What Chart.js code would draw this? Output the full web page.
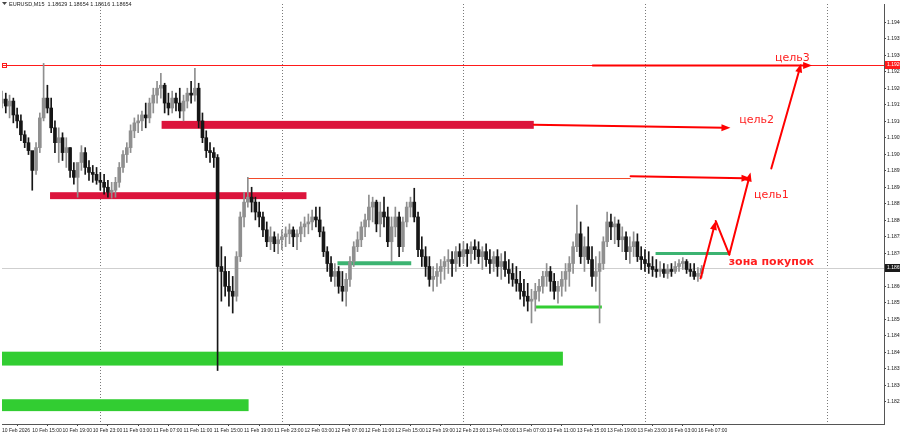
<!DOCTYPE html>
<html><head><meta charset="utf-8">
<script src="https://cdn.jsdelivr.net/npm/chart.js@4.4.1/dist/chart.umd.min.js"></script>
<style>html,body{margin:0;padding:0;background:#fff;overflow:hidden}#wrap{width:900px;height:436px;position:relative}</style>
</head><body><div id="wrap"><canvas id="c" width="900" height="436"></canvas></div>
<script>
// ---- DATA (EURUSD M15 view, drawn as 30-min candles) ----
const symbolTitle = "EURUSD,M15  1.18629 1.18654 1.18616 1.18654";
const firstOpen = 1.19155;
const closes = [1.19167,1.19146,1.19161,1.19119,1.19101,1.19059,1.19035,1.19011,1.18951,1.19020,
1.19110,1.19170,1.19140,1.19080,1.19035,1.19050,1.19005,1.19020,1.18951,1.18930,
1.18975,1.19005,1.18960,1.18945,1.18939,1.18921,1.18915,1.18900,1.18885,1.18891,
1.18915,1.18960,1.18999,1.19020,1.19071,1.19095,1.19101,1.19119,1.19110,1.19155,
1.19179,1.19200,1.19209,1.19155,1.19140,1.19170,1.19155,1.19131,1.19161,1.19185,
1.19179,1.19200,1.19101,1.19050,1.19011,1.19005,1.18990,1.18660,1.18645,1.18600,
1.18585,1.18570,1.18690,1.18810,1.18855,1.18870,1.18855,1.18825,1.18810,1.18771,
1.18735,1.18750,1.18729,1.18741,1.18750,1.18759,1.18771,1.18750,1.18759,1.18780,
1.18789,1.18795,1.18810,1.18801,1.18765,1.18705,1.18669,1.18630,1.18645,1.18600,
1.18585,1.18621,1.18675,1.18720,1.18741,1.18780,1.18801,1.18840,1.18855,1.18789,
1.18825,1.18810,1.18735,1.18780,1.18810,1.18720,1.18795,1.18840,1.18855,1.18810,
1.18711,1.18690,1.18660,1.18621,1.18630,1.18645,1.18660,1.18675,1.18681,1.18669,
1.18705,1.18690,1.18711,1.18699,1.18720,1.18711,1.18690,1.18705,1.18681,1.18669,
1.18690,1.18660,1.18675,1.18651,1.18639,1.18621,1.18609,1.18585,1.18570,1.18555,
1.18561,1.18585,1.18600,1.18630,1.18645,1.18615,1.18585,1.18600,1.18621,1.18645,
1.18669,1.18720,1.18759,1.18690,1.18720,1.18681,1.18630,1.18645,1.18669,1.18735,
1.18795,1.18780,1.18789,1.18741,1.18750,1.18705,1.18720,1.18735,1.18690,1.18681,
1.18669,1.18660,1.18651,1.18645,1.18651,1.18639,1.18651,1.18645,1.18660,1.18669,
1.18675,1.18651,1.18645,1.18630,1.18639,1.18654];
const highs = [1.19191,1.19185,1.19179,1.19170,1.19140,1.19119,1.19071,1.19050,1.19005,1.19035,
1.19125,1.19275,1.19209,1.19170,1.19101,1.19080,1.19065,1.19050,1.19020,1.18975,
1.18960,1.19026,1.19020,1.18981,1.18966,1.18960,1.18945,1.18939,1.18921,1.18915,
1.18930,1.18975,1.19011,1.19035,1.19089,1.19110,1.19119,1.19131,1.19155,1.19170,
1.19200,1.19221,1.19245,1.19215,1.19185,1.19191,1.19185,1.19200,1.19179,1.19200,
1.19221,1.19260,1.19215,1.19125,1.19071,1.19035,1.19020,1.18999,1.18720,1.18690,
1.18645,1.18630,1.18705,1.18825,1.18885,1.18930,1.18900,1.18870,1.18855,1.18825,
1.18795,1.18780,1.18765,1.18759,1.18771,1.18780,1.18789,1.18780,1.18771,1.18795,
1.18810,1.18819,1.18831,1.18840,1.18840,1.18780,1.18720,1.18690,1.18669,1.18660,
1.18645,1.18639,1.18690,1.18735,1.18765,1.18795,1.18819,1.18876,1.18870,1.18861,
1.18855,1.18870,1.18840,1.18810,1.18840,1.18825,1.18810,1.18855,1.18870,1.18897,
1.18825,1.18750,1.18720,1.18690,1.18660,1.18669,1.18681,1.18690,1.18711,1.18705,
1.18720,1.18729,1.18735,1.18729,1.18735,1.18741,1.18735,1.18720,1.18729,1.18711,
1.18705,1.18711,1.18699,1.18705,1.18681,1.18669,1.18660,1.18645,1.18621,1.18609,
1.18591,1.18609,1.18621,1.18645,1.18669,1.18660,1.18639,1.18615,1.18645,1.18669,
1.18690,1.18735,1.18846,1.18795,1.18750,1.18780,1.18720,1.18690,1.18705,1.18750,
1.18825,1.18819,1.18810,1.18801,1.18780,1.18765,1.18750,1.18765,1.18759,1.18720,
1.18711,1.18705,1.18690,1.18681,1.18675,1.18669,1.18666,1.18669,1.18675,1.18681,
1.18687,1.18681,1.18669,1.18669,1.18657,1.18663];
const lows = [1.19140,1.19125,1.19110,1.19095,1.19080,1.19041,1.19020,1.18999,1.18891,1.18939,
1.19005,1.19101,1.19125,1.19065,1.19005,1.18975,1.18981,1.18960,1.18930,1.18909,
1.18870,1.18951,1.18939,1.18921,1.18915,1.18909,1.18891,1.18879,1.18870,1.18867,
1.18870,1.18900,1.18945,1.18975,1.19005,1.19050,1.19065,1.19071,1.19080,1.19095,
1.19125,1.19155,1.19170,1.19125,1.19119,1.19125,1.19131,1.19110,1.19101,1.19140,
1.19155,1.19161,1.19080,1.19035,1.18990,1.18975,1.18960,1.18345,1.18555,1.18570,
1.18540,1.18519,1.18555,1.18675,1.18780,1.18840,1.18825,1.18801,1.18780,1.18750,
1.18720,1.18711,1.18705,1.18699,1.18711,1.18720,1.18729,1.18720,1.18711,1.18735,
1.18750,1.18759,1.18771,1.18780,1.18750,1.18690,1.18645,1.18615,1.18600,1.18579,
1.18555,1.18540,1.18600,1.18660,1.18705,1.18720,1.18750,1.18780,1.18795,1.18765,
1.18750,1.18780,1.18720,1.18675,1.18750,1.18690,1.18705,1.18780,1.18810,1.18795,
1.18690,1.18660,1.18630,1.18600,1.18585,1.18600,1.18609,1.18621,1.18639,1.18630,
1.18645,1.18660,1.18669,1.18660,1.18669,1.18681,1.18669,1.18651,1.18660,1.18639,
1.18645,1.18630,1.18621,1.18630,1.18609,1.18600,1.18585,1.18561,1.18540,1.18525,
1.18489,1.18525,1.18555,1.18579,1.18600,1.18585,1.18561,1.18549,1.18570,1.18585,
1.18600,1.18639,1.18705,1.18669,1.18645,1.18669,1.18600,1.18585,1.18489,1.18651,
1.18720,1.18741,1.18729,1.18720,1.18705,1.18681,1.18669,1.18690,1.18675,1.18651,
1.18645,1.18639,1.18630,1.18627,1.18630,1.18627,1.18624,1.18630,1.18639,1.18645,
1.18651,1.18639,1.18630,1.18621,1.18615,1.18627];
// x-axis tick labels every 8 half-hour bars
const timeLabels = ["10 Feb 2026","10 Feb 15:00","10 Feb 19:00","10 Feb 23:00","11 Feb 03:00","11 Feb 07:00",
"11 Feb 11:00","11 Feb 15:00","11 Feb 19:00","11 Feb 23:00","12 Feb 03:00","12 Feb 07:00","12 Feb 11:00",
"12 Feb 15:00","12 Feb 19:00","12 Feb 23:00","13 Feb 03:00","13 Feb 07:00","13 Feb 11:00","13 Feb 15:00",
"13 Feb 19:00","13 Feb 23:00","16 Feb 03:00","16 Feb 07:00"];
const daySeparators = [26, 74, 122, 170, 218];
const currentPrice = 1.18654;
const target3Price = 1.19269;
// supply zones (red) / demand zones (green): bar-index range and price range
const redZones = [[42.2, 140.6, 1.19077, 1.19101], [12.7, 80.5, 1.18864, 1.18885]];
const greenBands = [[0, 148.3, 1.18360, 1.18402], [0, 65.2, 1.18222, 1.18258]];
const greenLines = [[88.7, 108.2, 1.18670], [141.2, 158.6, 1.18537], [172.8, 192.1, 1.18699]];
const thinLevel = [64.9, 166.2, 1.18927];
// arrows: [x1, p1, x2, p2, withHead]
const arrows = [
 [156.2, 1.19269, 214.2, 1.19269, 1],
 [140.6, 1.19089, 192.6, 1.19080, 1],
 [166.2, 1.18933, 197.9, 1.18927, 1],
 [184.7, 1.18624, 188.7, 1.18798, 1],
 [188.7, 1.18798, 192.3, 1.18696, 0],
 [192.3, 1.18696, 197.9, 1.18945, 1],
 [203.4, 1.18957, 211.3, 1.19275, 1]
];
const annotations = [
 ["цель3", 209.0, 1.19290, 0],
 ["цель2", 199.5, 1.19104, 0],
 ["цель1", 203.4, 1.18875, 0],
 ["зона покупок", 203.4, 1.18672, 1]
];

// ---- BUILD ----
const bars = closes.map((c, i) => ({o: i === 0 ? firstOpen : closes[i-1], h: highs[i], l: lows[i], c}));
const BULL = '#8f8f8f', BEAR = '#161616';
const colorOf = i => bars[i].c >= bars[i].o ? BULL : BEAR;
const AXFONT = '"Liberation Sans", Arial, sans-serif';

function arrowHead(ctx, x1, y1, x2, y2, len, w) {
  const ang = Math.atan2(y2 - y1, x2 - x1);
  ctx.beginPath();
  ctx.moveTo(x2, y2);
  ctx.lineTo(x2 - len*Math.cos(ang) + w*Math.sin(ang), y2 - len*Math.sin(ang) - w*Math.cos(ang));
  ctx.lineTo(x2 - len*Math.cos(ang) - w*Math.sin(ang), y2 - len*Math.sin(ang) + w*Math.cos(ang));
  ctx.closePath(); ctx.fill();
}

const overlay = {
  id: 'overlay',
  beforeDatasetsDraw(chart) {
    const {ctx, chartArea: a, scales: {x, y}} = chart;
    ctx.save();
    ctx.beginPath(); ctx.rect(a.left, a.top, a.right - a.left, a.bottom - a.top); ctx.clip();
    ctx.strokeStyle = '#7a7a7a'; ctx.lineWidth = 1; ctx.setLineDash([1, 2]);
    daySeparators.forEach(i => { const px = Math.round(x.getPixelForValue(i)) + 0.5;
      ctx.beginPath(); ctx.moveTo(px, a.top); ctx.lineTo(px, a.bottom); ctx.stroke(); });
    ctx.setLineDash([]);
    ctx.strokeStyle = '#cfcfcf';
    let py = Math.round(y.getPixelForValue(currentPrice)) + 0.5;
    ctx.beginPath(); ctx.moveTo(a.left, py); ctx.lineTo(a.right, py); ctx.stroke();
    ctx.strokeStyle = '#ff1a1a';
    py = Math.round(y.getPixelForValue(target3Price)) + 0.5;
    ctx.beginPath(); ctx.moveTo(a.left, py); ctx.lineTo(a.right, py); ctx.stroke();
    ctx.strokeRect(a.left + 0.5, py - 2, 4, 4);
    ctx.fillStyle = '#dc143c';
    redZones.forEach(z => { const x1 = x.getPixelForValue(z[0]), x2 = x.getPixelForValue(z[1]);
      const y1 = y.getPixelForValue(z[3]), y2 = y.getPixelForValue(z[2]);
      ctx.fillRect(x1, y1, x2 - x1, y2 - y1); });
    ctx.fillStyle = '#32cd32';
    greenBands.forEach(z => { const x1 = x.getPixelForValue(z[0]), x2 = x.getPixelForValue(z[1]);
      const y1 = y.getPixelForValue(z[3]), y2 = y.getPixelForValue(z[2]);
      ctx.fillRect(x1, y1, x2 - x1, y2 - y1); });
    const gw = [4, 3, 3], gc = ['#3cb371', '#32cd32', '#3cb371'];
    greenLines.forEach((z, k) => { ctx.strokeStyle = gc[k]; ctx.lineWidth = gw[k];
      const yy = y.getPixelForValue(z[2]);
      ctx.beginPath(); ctx.moveTo(x.getPixelForValue(z[0]), yy); ctx.lineTo(x.getPixelForValue(z[1]), yy); ctx.stroke(); });
    ctx.strokeStyle = '#f24a2a'; ctx.lineWidth = 1;
    py = Math.round(y.getPixelForValue(thinLevel[2])) + 0.5;
    ctx.beginPath(); ctx.moveTo(x.getPixelForValue(thinLevel[0]), py); ctx.lineTo(x.getPixelForValue(thinLevel[1]), py); ctx.stroke();
    ctx.restore();
  },
  afterDatasetsDraw(chart) {
    const {ctx, scales: {x, y}} = chart;
    ctx.save();
    ctx.strokeStyle = '#ff0000'; ctx.fillStyle = '#ff0000'; ctx.lineWidth = 2; ctx.lineCap = 'round';
    arrows.forEach(r => {
      const x1 = x.getPixelForValue(r[0]), y1 = y.getPixelForValue(r[1]);
      const x2 = x.getPixelForValue(r[2]), y2 = y.getPixelForValue(r[3]);
      const ang = Math.atan2(y2 - y1, x2 - x1);
      const ex = r[4] ? x2 - 6*Math.cos(ang) : x2, ey = r[4] ? y2 - 6*Math.sin(ang) : y2;
      ctx.beginPath(); ctx.moveTo(x1, y1); ctx.lineTo(ex, ey); ctx.stroke();
      if (r[4]) arrowHead(ctx, x1, y1, x2, y2, 9, 3.5);
    });
    ctx.fillStyle = '#ff1f1f'; ctx.textAlign = 'center'; ctx.textBaseline = 'middle';
    annotations.forEach(t => {
      ctx.font = (t[3] ? 'bold ' : '') + '11px "DejaVu Sans", sans-serif';
      ctx.fillText(t[0], x.getPixelForValue(t[1]), y.getPixelForValue(t[2]));
    });
    ctx.restore();
  },
  afterDraw(chart) {
    const {ctx, chartArea: a, scales: {y}} = chart;
    ctx.save();
    ctx.font = '5px ' + AXFONT; ctx.textBaseline = 'middle'; ctx.textAlign = 'left';
    let py = Math.round(y.getPixelForValue(target3Price));
    ctx.fillStyle = '#ff1a1a'; ctx.fillRect(a.right + 1, py - 4, 16, 8);
    ctx.fillStyle = '#ffffff'; ctx.fillText(target3Price.toFixed(5), a.right + 3, py);
    py = Math.round(y.getPixelForValue(currentPrice));
    ctx.fillStyle = '#1a1a1a'; ctx.fillRect(a.right + 1, py - 4, 16, 8);
    ctx.fillStyle = '#ffffff'; ctx.fillText(currentPrice.toFixed(5), a.right + 3, py);
    ctx.fillStyle = '#444'; ctx.beginPath(); ctx.moveTo(2, 2); ctx.lineTo(7, 2); ctx.lineTo(4.5, 5); ctx.closePath(); ctx.fill();
    ctx.fillStyle = '#222'; ctx.font = '5.5px ' + AXFONT; ctx.fillText(symbolTitle, 9, 4);
    ctx.restore();
  }
};

new Chart(document.getElementById('c'), {
  type: 'bar',
  data: {
    datasets: [
      { label: 'wick', data: bars.map((b, i) => ({x: i, y: [b.l, b.h]})), barThickness: 1, grouped: false,
        backgroundColor: ctx => colorOf(ctx.dataIndex), borderWidth: 0, order: 2 },
      { label: 'body', data: bars.map((b, i) => ({x: i, y: [b.o, b.c]})), barThickness: 3, grouped: false, minBarLength: 1,
        backgroundColor: ctx => colorOf(ctx.dataIndex), borderWidth: 0, order: 1 }
    ]
  },
  options: {
    responsive: false, animation: false, devicePixelRatio: 1,
    layout: { padding: 0 },
    plugins: { legend: { display: false }, tooltip: { enabled: false } },
    scales: {
      x: {
        type: 'linear', min: 0, max: 233.2, offset: false,
        afterFit: s => { s.height = 12; },
        afterBuildTicks: s => { s.ticks = s.ticks.filter(t => t.value % 8 === 0 && t.value / 8 < timeLabels.length); },
        ticks: { stepSize: 8, autoSkip: false, maxRotation: 0, align: 'start', padding: 2,
          font: { size: 5, family: AXFONT }, color: '#222',
          callback: v => timeLabels[v / 8] || '' },
        grid: { drawOnChartArea: false, drawTicks: true, tickLength: 2, color: '#444' },
        border: { display: true, color: '#555' }
      },
      y: {
        position: 'right', min: 1.18183, max: 1.19455,
        afterFit: s => { s.width = 16; },
        afterBuildTicks: s => { s.ticks = s.ticks.filter(t => Math.abs(t.value / 0.0005 - Math.round(t.value / 0.0005)) < 1e-6); },
        ticks: { stepSize: 0.0005, padding: 1, font: { size: 5, family: AXFONT }, color: '#222',
          callback: v => v.toFixed(5) },
        grid: { drawOnChartArea: false, drawTicks: true, tickLength: 2, color: '#444' },
        border: { display: true, color: '#555' }
      }
    }
  },
  plugins: [overlay]
});
</script>
</body></html>
